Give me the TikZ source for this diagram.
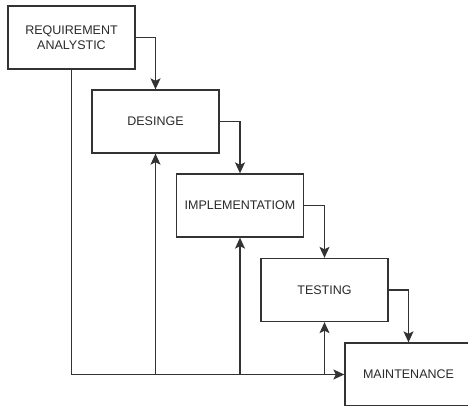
\documentclass[tikz,border=0pt]{standalone}
\usepackage{fontspec}
\newfontfamily\phasefont{Liberation Sans}
\usetikzlibrary{arrows.meta}
\definecolor{linegray}{HTML}{333333}
\definecolor{textgray}{HTML}{2A2A2A}

\begin{document}
\begin{tikzpicture}[x=1pt, y=-1pt,
  phase/.style={draw=linegray, line width=1.3pt, fill=white, minimum width=127pt, minimum height=63pt,
    inner sep=0pt, align=center, text=textgray, font=\phasefont\fontsize{12.5}{15}\selectfont},
  flow/.style={draw=linegray, line width=1.3pt, -{Stealth[length=11pt, width=10pt, inset=2.5pt]}}]
\useasboundingbox (0,0) rectangle (468,406);
% Waterfall phases
\node[phase] (req) at (71.5,37.5) {REQUIREMENT\\ANALYSTIC};
\node[phase] (des) at (155.5,121.5) {DESINGE};
\node[phase] (imp) at (240,205.5) {IMPLEMENTATIOM};
\node[phase] (tes) at (324.5,290) {TESTING};
\node[phase] (mai) at (408.5,374.5) {MAINTENANCE};
% Forward steps
\draw[flow] (req.east) -| (des.north);
\draw[flow] (des.east) -| (imp.north);
\draw[flow] (imp.east) -| (tes.north);
\draw[flow] (tes.east) -| (mai.north);
% Feedback line
\draw[flow] (req.south) |- (mai.west);
\draw[flow] (des.south |- mai.west) -- (des.south);
\draw[flow] (imp.south |- mai.west) -- (imp.south);
\draw[flow] (tes.south |- mai.west) -- (tes.south);
\end{tikzpicture}
\end{document}
